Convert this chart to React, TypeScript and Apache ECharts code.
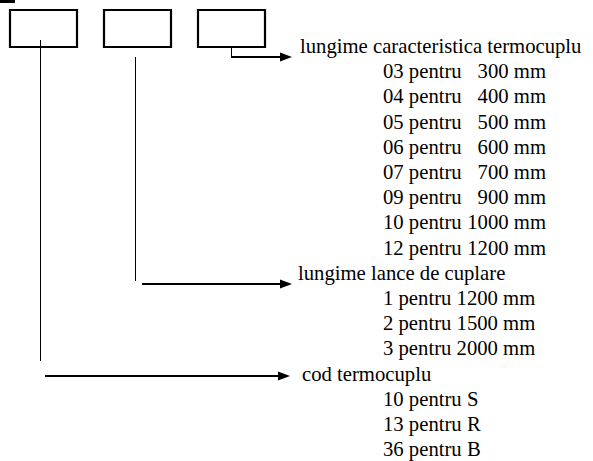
import React, { useEffect, useRef } from "react";
import * as echarts from "echarts";

// Diagram content
const codeSections = [
  "lungime caracteristica termocuplu",
  "lungime lance de cuplare",
  "cod termocuplu",
];
const lengthCodes = ["03", "04", "05", "06", "07", "09", "10", "12"];
const lengthValues = ["300 mm", "400 mm", "500 mm", "600 mm", "700 mm", "900 mm", "1000 mm", "1200 mm"];
const lanceCodes = ["1", "2", "3"];
const lanceValues = ["1200 mm", "1500 mm", "2000 mm"];
const typeCodes = ["10", "13", "36"];
const typeValues = ["S", "R", "B"];
const word = "pentru";

const FONT = "Liberation Serif";
const FS = 20.7;
const LINE0 = 46;
const STEP = 25.2;
const ITEM_X = 383;
const VALUE_END_X = 546;

function rowY(i: number) {
  return LINE0 + STEP * i;
}

function txt(x: number, y: number, s: string, align: string = "left") {
  return {
    type: "text",
    x,
    y,
    silent: true,
    style: {
      text: s,
      fill: "#000",
      fontFamily: FONT,
      fontSize: FS,
      align,
      verticalAlign: "middle",
    },
  };
}

function hline(x1: number, x2: number, y: number, w: number) {
  return { type: "line", silent: true, shape: { x1, y1: y, x2, y2: y }, style: { stroke: "#000", lineWidth: w } };
}
function vline(x: number, y1: number, y2: number, w: number) {
  return { type: "line", silent: true, shape: { x1: x, y1, x2: x, y2 }, style: { stroke: "#000", lineWidth: w } };
}
function arrowHead(tip: number, y: number) {
  return {
    type: "polygon",
    silent: true,
    shape: { points: [[tip, y], [tip - 12, y - 4.5], [tip - 12, y + 4.5]] },
    style: { fill: "#000" },
  };
}
function box(x: number) {
  return {
    type: "rect",
    silent: true,
    shape: { x, y: 10, width: 67, height: 37 },
    style: { fill: "#fff", stroke: "#000", lineWidth: 2.2 },
  };
}

export default function App() {
  const ref = useRef<HTMLDivElement>(null);
  useEffect(() => {
    document.body.style.margin = "0";
    if (!ref.current) return;
    const chart = echarts.init(ref.current, undefined, { renderer: "svg" });
    const els: any[] = [];
    // top-left mark
    els.push({ type: "rect", silent: true, shape: { x: 0, y: 0, width: 15, height: 3 }, style: { fill: "#000" } });
    // boxes
    els.push(box(10), box(104), box(198));
    // connectors
    els.push(vline(40.5, 40, 361, 1));
    els.push(vline(135.5, 57, 281, 1));
    els.push(vline(231.5, 47, 57, 1));
    els.push(hline(231, 282, 57, 2), arrowHead(292, 57));
    els.push(hline(142, 282, 284, 2), arrowHead(292, 284));
    els.push(hline(45, 280, 376, 2), arrowHead(290, 376));

    // texts
    els.push(txt(300, rowY(0), codeSections[0]));
    lengthCodes.forEach((c, i) => {
      els.push(txt(ITEM_X, rowY(1 + i), `${c} ${word}`));
      els.push(txt(VALUE_END_X, rowY(1 + i), lengthValues[i], "right"));
    });
    els.push(txt(298, rowY(9), codeSections[1]));
    lanceCodes.forEach((c, i) => {
      els.push(txt(ITEM_X, rowY(10 + i), `${c} ${word} ${lanceValues[i]}`));
    });
    els.push(txt(302, rowY(13), codeSections[2]));
    typeCodes.forEach((c, i) => {
      els.push(txt(ITEM_X, rowY(14 + i), `${c} ${word} ${typeValues[i]}`));
    });

    chart.setOption({
      animation: false,
      backgroundColor: "#fff",
      graphic: { elements: els },
    });
    return () => chart.dispose();
  }, []);
  return <div ref={ref} style={{ width: 593, height: 461 }} />;
}
